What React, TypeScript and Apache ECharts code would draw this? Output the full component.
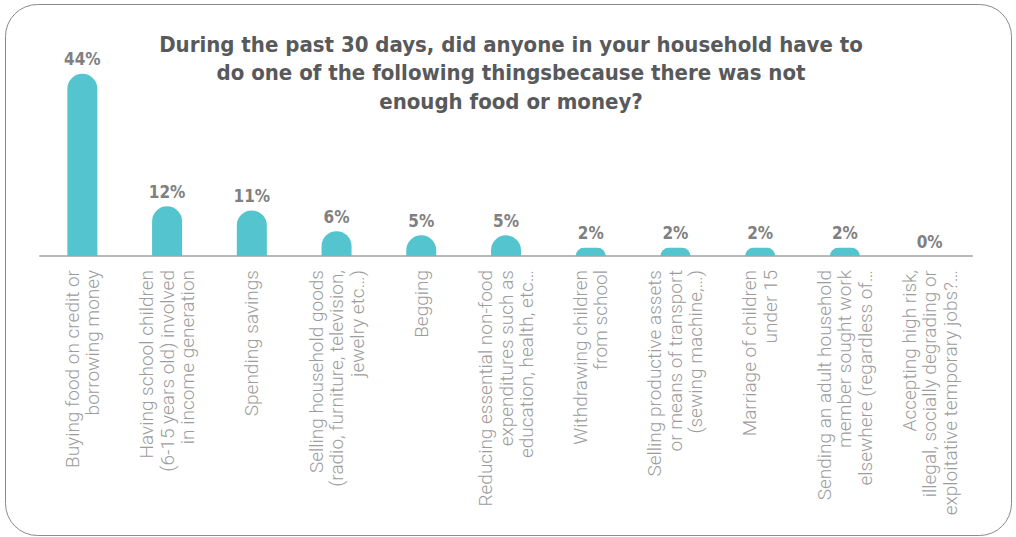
import React, { useEffect, useRef } from "react";
import * as echarts from "echarts";

const titleText =
  "During the past 30 days, did anyone in your household have to\ndo one of the following thingsbecause there was not\nenough food or money?";

const categories = [
  "Buying food on credit or\nborrowing money",
  "Having school children\n(6-15 years old) involved\nin income generation",
  "Spending savings",
  "Selling household goods\n(radio, furniture, television,\njewelry etc…)",
  "Begging",
  "Reducing essential non-food\nexpenditures such as\neducation, health, etc…",
  "Withdrawing children\nfrom school",
  "Selling productive assets\nor means of transport\n(sewing machine,…)",
  "Marriage of children\nunder 15",
  "Sending an adult household\nmember sought work\nelsewhere (regardless of…",
  "Accepting high risk,\nillegal, socially degrading or\nexploitative temporary jobs?…",
];

const values = [44, 12, 11, 6, 5, 5, 2, 2, 2, 2, 0];

const NARROW = "'Liberation Sans Narrow', 'DejaVu Sans Condensed', 'Roboto Condensed', Roboto, sans-serif";
const LIGHT = "Roboto, 'Open Sans', sans-serif";

export default function App() {
  const ref = useRef<HTMLDivElement>(null);
  useEffect(() => {
    if (!ref.current) return;
    const chart = echarts.init(ref.current, null, { renderer: "svg" });
    chart.setOption({
      animation: false,
      backgroundColor: "#ffffff",
      title: {
        text: titleText,
        left: 511,
        top: 30,
        padding: 0,
        textAlign: "center",
        textStyle: {
          fontFamily: NARROW,
          fontWeight: "bold",
          fontSize: 22,
          lineHeight: 28.5,
          color: "#58595b",
        },
      },
      graphic: [
        {
          type: "rect",
          shape: { x: 5.5, y: 4.5, width: 1006, height: 531, r: 32 },
          style: { fill: "none", stroke: "#8a8a8a", lineWidth: 1 },
          silent: true,
        },
      ],
      grid: { left: 40, right: 44, top: 49, bottom: 281 },
      xAxis: {
        type: "category",
        data: categories,
        axisLine: { show: true, lineStyle: { color: "#b8b8b8", width: 2 } },
        axisTick: { show: false },
        axisLabel: {
          interval: 0,
          rotate: 90,
          margin: 14,
          fontFamily: LIGHT,
          fontWeight: 300,
          fontSize: 19,
          lineHeight: 20.5,
          color: "#9c9c9c",
        },
      },
      yAxis: {
        type: "value",
        min: 0,
        max: 50,
        show: false,
        splitLine: { show: false },
      },
      series: [
        {
          type: "bar",
          data: values,
          barWidth: 30,
          itemStyle: { color: "#54c4ce", borderRadius: [15, 15, 0, 0] },
          label: {
            show: true,
            position: "top",
            distance: 6,
            formatter: "{c}%",
            fontFamily: NARROW,
            fontWeight: "bold",
            fontSize: 17,
            color: "#808080",
          },
        },
      ],
    });
    return () => chart.dispose();
  }, []);
  return (
    <div
      ref={ref}
      style={{ position: "absolute", left: 0, top: 0, width: 1016, height: 537 }}
    />
  );
}
